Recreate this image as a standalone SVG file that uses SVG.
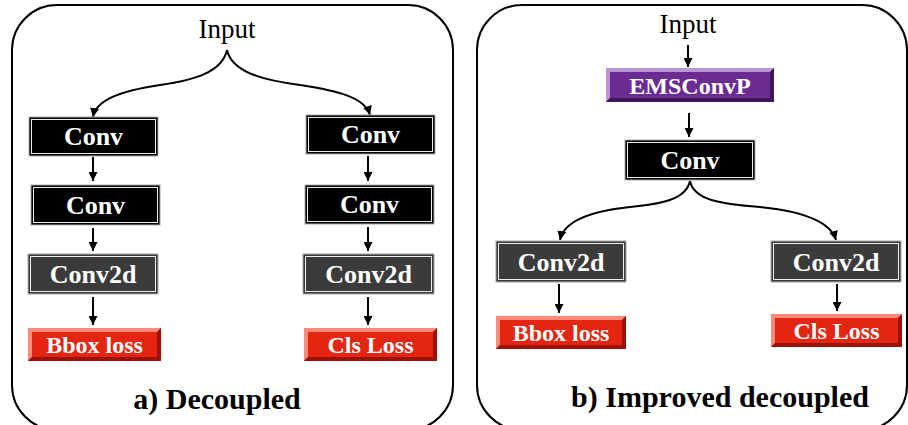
<svg xmlns="http://www.w3.org/2000/svg" width="908" height="425" viewBox="0 0 908 425">
<defs>
<marker id="ah" markerWidth="9" markerHeight="9" refX="9" refY="4.5" orient="auto" markerUnits="userSpaceOnUse">
<path d="M0,0 L9,4.5 L0,9 z" fill="#000"/>
</marker>
<style>
.panel{fill:#fff;stroke:#000;stroke-width:2}
.conn{fill:none;stroke:#000;stroke-width:2;marker-end:url(#ah)}
.blk{fill:#000;stroke:#aaa;stroke-width:1}
.gry{fill:#3b3b3b;stroke:#aaa;stroke-width:1}
.inr{fill:none;stroke:#eee;stroke-width:1}
.red{fill:#e42512}
.redl{fill:#ff8a7a}
.redd{fill:#9c1208}
.pur{fill:#6a2c92}
.purl{fill:#b997d4}
.purd{fill:#3e145a}
.lbl{font-family:"Liberation Serif","Times New Roman",serif;font-weight:bold;fill:#fff;text-anchor:middle}
.in{font-family:"Liberation Serif","Times New Roman",serif;font-size:27px;fill:#000;text-anchor:middle}
.cap{font-family:"Liberation Serif","Times New Roman",serif;font-size:30px;font-weight:bold;fill:#000;text-anchor:middle}
</style>
</defs>
<rect width="908" height="425" fill="#fff"/>
<rect class="panel" x="12" y="5" width="441" height="425" rx="45" ry="45"/>
<rect class="panel" x="477" y="5" width="430" height="425" rx="45" ry="45"/>

<g id="connectors">
<path class="conn" d="M227,50 C222,72 195,80 160,85 C120,91 96,100 93,117"/>
<path class="conn" d="M227,50 C232,72 262,80 300,85 C340,91 365,98 370,115"/>
<line class="conn" x1="93" y1="157" x2="93" y2="181"/>
<line class="conn" x1="93" y1="228" x2="93" y2="251"/>
<line class="conn" x1="93" y1="297" x2="93" y2="325"/>
<line class="conn" x1="368" y1="156" x2="368" y2="181"/>
<line class="conn" x1="368" y1="227" x2="368" y2="251"/>
<line class="conn" x1="368" y1="297" x2="368" y2="325"/>
<line class="conn" x1="688" y1="45" x2="688" y2="67"/>
<line class="conn" x1="689" y1="113" x2="689" y2="137"/>
<path class="conn" d="M690,181 C686,200 660,204 630,207 C592,211 564,220 560,240"/>
<path class="conn" d="M690,181 C694,200 720,204 760,207 C800,211 830,220 836,240"/>
<line class="conn" x1="559" y1="284" x2="559" y2="313"/>
<line class="conn" x1="837" y1="284" x2="837" y2="311"/>
</g>

<text class="in" x="227" y="38">Input</text>
<text class="in" x="688" y="33">Input</text>

<g id="convL1"><rect class="blk" x="29" y="117" width="129" height="39"/><rect class="inr" x="31.5" y="119.5" width="124" height="34"/><text class="lbl" x="93.5" y="145" font-size="26">Conv</text></g>
<g id="convL2"><rect class="blk" x="31" y="185" width="129" height="40"/><rect class="inr" x="33.5" y="187.5" width="124" height="35"/><text class="lbl" x="95.5" y="214" font-size="26">Conv</text></g>
<g id="conv2dL"><rect class="gry" x="28" y="254" width="130" height="40"/><rect class="inr" x="30.5" y="256.5" width="125" height="35"/><text class="lbl" x="93" y="283" font-size="26">Conv2d</text></g>
<g id="bboxL"><rect class="red" x="28" y="328" width="133" height="33"/><path class="redl" d="M28,328 H161 L157,332 H32 V357 L28,361 z"/><path class="redd" d="M161,328 V361 H28 L32,357 H157 V332 z"/><text class="lbl" x="94.5" y="353" font-size="24">Bbox loss</text></g>

<g id="convR1"><rect class="blk" x="306" y="115" width="129" height="39"/><rect class="inr" x="308.5" y="117.5" width="124" height="34"/><text class="lbl" x="370.5" y="143" font-size="26">Conv</text></g>
<g id="convR2"><rect class="blk" x="305" y="185" width="129" height="39"/><rect class="inr" x="307.5" y="187.5" width="124" height="34"/><text class="lbl" x="369.5" y="213" font-size="26">Conv</text></g>
<g id="conv2dR"><rect class="gry" x="303" y="254" width="131" height="40"/><rect class="inr" x="305.5" y="256.5" width="126" height="35"/><text class="lbl" x="368.5" y="283" font-size="26">Conv2d</text></g>
<g id="clsL"><rect class="red" x="304" y="328" width="133" height="33"/><path class="redl" d="M304,328 H437 L433,332 H308 V357 L304,361 z"/><path class="redd" d="M437,328 V361 H304 L308,357 H433 V332 z"/><text class="lbl" x="370.5" y="353" font-size="24">Cls Loss</text></g>

<text class="cap" x="217" y="409">a) Decoupled</text>

<g id="emsconvp"><rect class="pur" x="606" y="68" width="168" height="34"/><path class="purl" d="M606,68 H774 L770,72 H610 V98 L606,102 z"/><path class="purd" d="M774,68 V102 H606 L610,98 H770 V72 z"/><text class="lbl" x="690" y="94" font-size="24">EMSConvP</text></g>
<g id="convB"><rect class="blk" x="625" y="140" width="130" height="40"/><rect class="inr" x="627.5" y="142.5" width="125" height="35"/><text class="lbl" x="690" y="169" font-size="26">Conv</text></g>
<g id="conv2dBL"><rect class="gry" x="496" y="241" width="130" height="41"/><rect class="inr" x="498.5" y="243.5" width="125" height="36"/><text class="lbl" x="561" y="271" font-size="26">Conv2d</text></g>
<g id="conv2dBR"><rect class="gry" x="771" y="241" width="130" height="41"/><rect class="inr" x="773.5" y="243.5" width="125" height="36"/><text class="lbl" x="836" y="271" font-size="26">Conv2d</text></g>
<g id="bboxB"><rect class="red" x="496" y="316" width="130" height="33"/><path class="redl" d="M496,316 H626 L622,320 H500 V345 L496,349 z"/><path class="redd" d="M626,316 V349 H496 L500,345 H622 V320 z"/><text class="lbl" x="561" y="341" font-size="24">Bbox loss</text></g>
<g id="clsB"><rect class="red" x="771" y="314" width="131" height="33"/><path class="redl" d="M771,314 H902 L898,318 H775 V343 L771,347 z"/><path class="redd" d="M902,314 V347 H771 L775,343 H898 V318 z"/><text class="lbl" x="836.5" y="339" font-size="24">Cls Loss</text></g>

<text class="cap" x="720" y="407">b) Improved decoupled</text>
</svg>
